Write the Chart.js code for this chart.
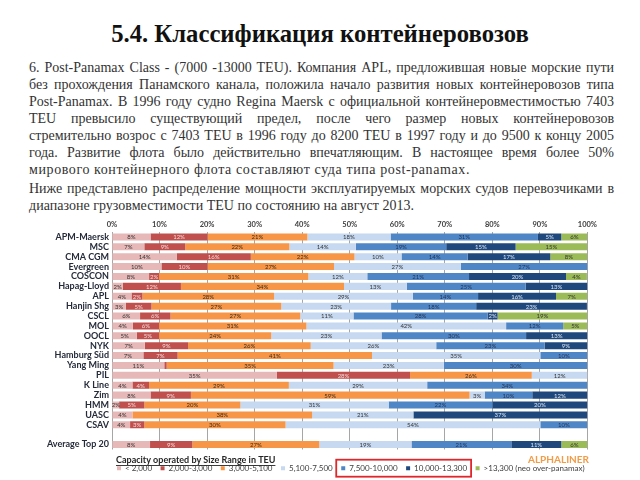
<!DOCTYPE html>
<html>
<head>
<meta charset="utf-8">
<script src="https://cdn.jsdelivr.net/npm/chart.js@4"></script>
<style>
  body { margin: 0; width: 640px; height: 480px; background: #fff; position: relative; overflow: hidden; }
  #title { position: absolute; left: 0; top: 20px; width: 640px; text-align: center;
           font: bold 24.7px/28px 'Liberation Serif'; color: #111; }
  #text { position: absolute; left: 29px; top: 58.5px; width: 600px; font: 14px/17px 'Liberation Serif'; color: #333; }
  #text span { white-space: nowrap; }
  #chartBox { position: absolute; left: 30px; top: 215px; width: 570px; height: 265px; }
</style>
</head>
<body>
<div id="title">5.4. Классификация контейнеровозов</div>
<div id="text">
  <div><span data-w="585">6. Post-Panamax Class - (7000 -13000 TEU). Компания APL, предложившая новые морские пути</span></div>
  <div><span data-w="585">без прохождения Панамского канала, положила начало развития новых контейнеровозов типа</span></div>
  <div><span data-w="585">Post-Panamax. В 1996 году судно Regina Maersk с официальной контейнеровместимостью 7403</span></div>
  <div><span data-w="585">TEU превысило существующий предел, после чего размер новых контейнеровозов</span></div>
  <div><span data-w="585">стремительно возрос с 7403 TEU в 1996 году до 8200 TEU в 1997 году и до 9500 к концу 2005</span></div>
  <div><span data-w="585">года. Развитие флота было действительно впечатляющим. В настоящее время более 50%</span></div>
  <div><span data-w="441" data-mode="ls">мирового контейнерного флота составляют суда типа post-panamax.</span></div>
  <div style="margin-top:2px"><span data-w="585">Ниже представлено распределение мощности эксплуатируемых морских судов перевозчиками в</span></div>
  <div><span data-w="385" data-mode="ls">диапазоне грузовместимости TEU по состоянию на август 2013.</span></div>
</div>
<div id="chartBox"><canvas id="sizeChart"></canvas></div>

<script>
// stretch each text line to the width it has on the slide
document.querySelectorAll('#text span').forEach(sp => {
    const target = +sp.dataset.w;
    const w = sp.getBoundingClientRect().width;
    if (sp.dataset.mode === 'ls') {
        sp.style.letterSpacing = ((target - w) / sp.textContent.length) + 'px';
    } else {
        sp.style.wordSpacing = ((target - w) / (sp.textContent.split(' ').length - 1)) + 'px';
    }
});

const carriers = ['APM-Maersk', 'MSC', 'CMA CGM', 'Evergreen', 'COSCON', 'Hapag-Lloyd', 'APL', 'Hanjin Shg', 'CSCL',
                  'MOL', 'OOCL', 'NYK', 'Hamburg Süd', 'Yang Ming', 'PIL', 'K Line', 'Zim', 'HMM', 'UASC', 'CSAV',
                  '', 'Average Top 20'];

// share of capacity (%) per size range, one value per carrier
const under2000   = [8.1, 6.8, 13.6, 10.4, 7.8, 2.3, 4.1, 2.9, 5.9, 4.4, 5.2, 6.9, 6.6, 11, 34.7, 4.3, 8.1, 1.5, 4.3, 3.8, null, 8];
const r2000_3000  = [12, 8.6, 15.6, 9.7, 2.1, 12.2, 2.3, 5.4, 6.4, 5.5, 4.7, 9.1, 7.2, 0.5, 28, 3.5, 8.5, 5.3, 0, 3, null, 8.9];
const r3000_5100  = [21, 21.9, 21.8, 26.6, 31.4, 34.3, 27.7, 27.3, 27.3, 31, 23.6, 25.8, 40.9, 35.1, 25.6, 29.4, 58.6, 20.2, 37.8, 29.7, null, 26.7];
const r5100_7500  = [17.5, 14, 9.9, 26.7, 12.4, 13.2, 29.2, 23.1, 11.2, 42, 23.2, 26.4, 35.4, 23.2, 11.7, 29.1, 3.2, 31.2, 21.3, 53.6, null, 19.4];
const r7500_10000 = [31, 19, 13.9, 26.6, 21.4, 25, 13.7, 17.9, 28.2, 12, 30.4, 22.8, 9.9, 30.2, 0, 33.7, 10, 21.8, 0, 9.9, null, 21];
const r10000_13300 = [4.9, 14.6, 17.4, 0, 20.4, 13, 16.4, 23.3, 2.1, 0, 12.9, 9, 0, 0, 0, 0, 11.6, 20, 36.6, 0, null, 10.5];
const over13300   = [5.5, 15.1, 7.8, 0, 4.4, 0, 6.6, 0, 18.9, 5.1, 0, 0, 0, 0, 0, 0, 0, 0, 0, 0, null, 5.5];

const rangeNames = ['< 2,000', '2,000-3,000', '3,000-5,100', '5,100-7,500', '7,500-10,000', '10,000-13,300', '>13,300 (neo over-panamax)'];
const xTicks = [0, 10, 20, 30, 40, 50, 60, 70, 80, 90, 100];

const series = [under2000, r2000_3000, r3000_5100, r5100_7500, r7500_10000, r10000_13300, over13300];
const colors = ['#e6b9b8', '#c0504d', '#f79646', '#c6d9f1', '#4f86c6', '#1f497d', '#9bbb59'];
const textColors = ['#333', '#f2dcdb', '#3a2a1a', '#333', '#1f3050', '#dce6f2', '#333'];

const extras = {
    id: 'extras',
    afterLayout(chart) {
        // legend sits under the plot, starting at the bars' left edge
        const lg = chart.legend;
        lg.left = 78.5;
        lg.right = 640;
        lg.top = 240.7;
        lg.bottom = 280;
    },
    afterDatasetsDraw(chart) {
        const ctx = chart.ctx;
        ctx.save();
        ctx.font = '6px Lato';
        ctx.textAlign = 'center';
        ctx.textBaseline = 'middle';
        chart.data.datasets.forEach((ds, i) => {
            chart.getDatasetMeta(i).data.forEach((bar, j) => {
                const v = ds.data[j];
                if (!v || Math.abs(bar.x - bar.base) < 6) return;
                ctx.fillStyle = textColors[i];
                ctx.fillText(Math.round(v) + '%', (bar.x + bar.base) / 2, bar.y + 0.5);
            });
        });
        ctx.restore();
    },
    afterDraw(chart) {
        const ctx = chart.ctx;
        ctx.save();
        // legend caption
        ctx.font = 'bold 9px Lato';
        ctx.fillStyle = '#262626';
        ctx.textBaseline = 'middle';
        const cap = 'Capacity operated by Size Range in TEU';
        ctx.fillText(cap, 86, 245);
        ctx.fillRect(86, 250, ctx.measureText(cap).width, 0.9);
        // source mark
        ctx.font = 'bold 10px Lato';
        ctx.fillStyle = '#f39b45';
        ctx.textAlign = 'right';
        ctx.fillText('ALPHALINER', 559, 245);
        // red frame round the two post-panamax ranges
        const hb = chart.legend.legendHitBoxes;
        const l = hb[4].left - 5, r = hb[5].left + hb[5].width + 4;
        const cy = hb[4].top + hb[4].height / 2;
        ctx.strokeStyle = '#e0262b';
        ctx.lineWidth = 1.8;
        ctx.strokeRect(l, cy - 8.5, r - l, 17);
        ctx.restore();
    }
};

new Chart(document.getElementById('sizeChart').getContext('2d'), {
    type: 'bar',
    data: {
        labels: carriers,
        datasets: series.map((d, i) => ({
            label: rangeNames[i],
            data: d,
            backgroundColor: colors[i],
            borderWidth: 0,
            barPercentage: 0.75,
            categoryPercentage: 0.95
        }))
    },
    options: {
        indexAxis: 'y',
        responsive: true,
        maintainAspectRatio: false,
        animation: false,
        layout: { padding: { left: 0, right: 12, top: 0, bottom: 4 } },
        plugins: {
            tooltip: { enabled: false },
            legend: {
                position: 'bottom',
                align: 'start',
                labels: {
                    boxWidth: 4,
                    boxHeight: 4,
                    padding: 8.5,
                    color: '#404040',
                    font: { family: 'Lato', size: 8 }
                }
            }
        },
        scales: {
            x: {
                position: 'top',
                stacked: true,
                min: 0,
                max: 100,
                afterBuildTicks: s => { s.ticks = xTicks.map(v => ({ value: v })); },
                afterFit: s => { s.height = 17; },
                ticks: {
                    padding: 3,
                    color: '#404040',
                    font: { family: 'Lato', size: 7.5, weight: 'bold' },
                    callback: v => v + '%'
                },
                grid: { color: '#a6a6a6', lineWidth: 1, drawTicks: false },
                border: { display: false }
            },
            y: {
                stacked: true,
                afterFit: s => { s.width = 82; },
                ticks: {
                    autoSkip: false,
                    padding: 3,
                    color: '#262b3a',
                    font: { family: 'Lato', size: 9, weight: 'bold' }
                },
                grid: { display: false, drawTicks: false },
                border: { display: false }
            }
        }
    },
    plugins: [extras]
});
</script>
</body>
</html>
